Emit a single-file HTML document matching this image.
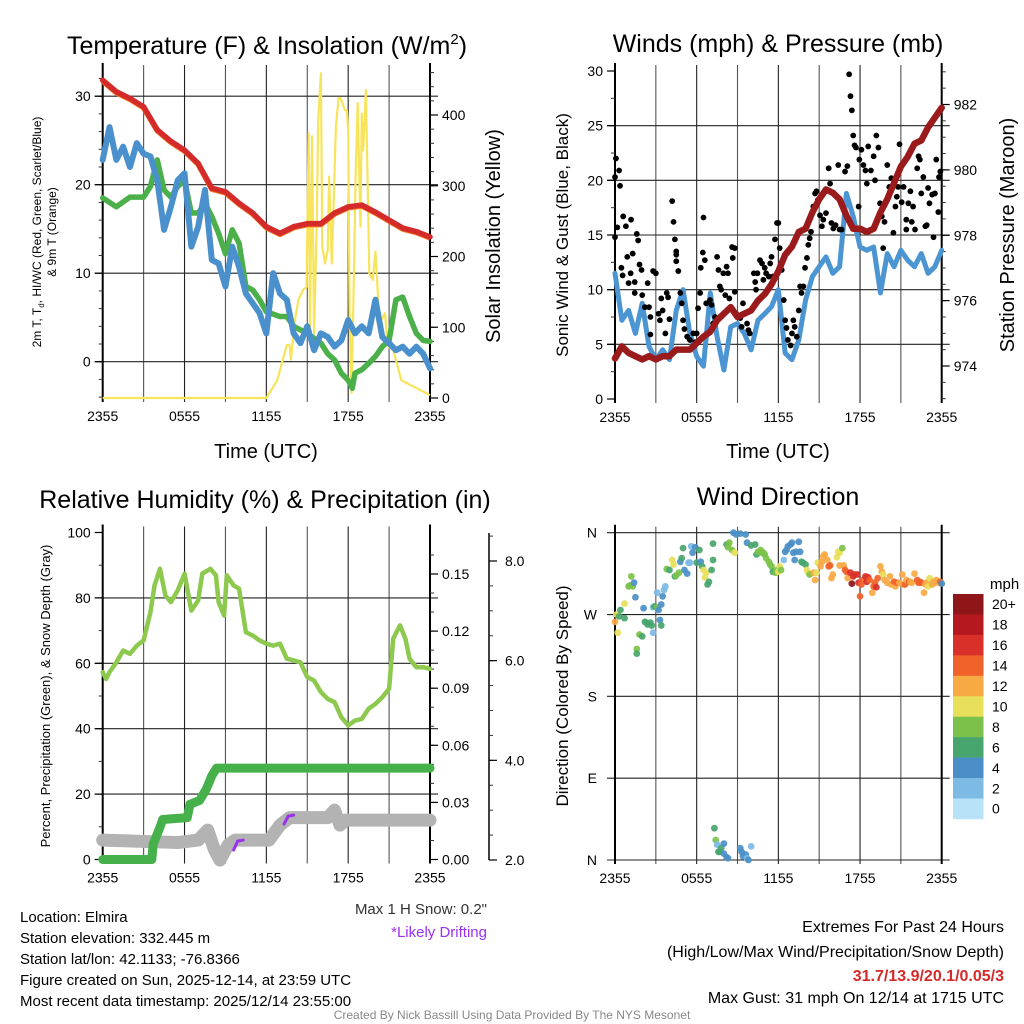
<!DOCTYPE html>
<html><head><meta charset="utf-8"><title>NYS Mesonet Elmira</title>
<style>
html,body{margin:0;padding:0;background:#fff;}
svg{display:block;font-family:"Liberation Sans",Arial,sans-serif;}
</style></head>
<body>
<svg id="fig" width="1024" height="1024" viewBox="0 0 1024 1024" xmlns="http://www.w3.org/2000/svg">
<rect x="0" y="0" width="1024" height="1024" fill="#fff"/>
<g id="layer"></g>
<!-- titles -->
<text x="267" y="54" font-size="25" text-anchor="middle">Temperature (F) &amp; Insolation (W/m<tspan font-size="15" dy="-10">2</tspan><tspan dy="10">)</tspan></text>
<text x="778" y="52" font-size="25" text-anchor="middle">Winds (mph) &amp; Pressure (mb)</text>
<text x="265" y="508" font-size="25" text-anchor="middle">Relative Humidity (%) &amp; Precipitation (in)</text>
<text x="778" y="505" font-size="25" text-anchor="middle">Wind Direction</text>
<!-- axis titles -->
<g font-size="12" text-anchor="middle">
<text transform="translate(41,232) rotate(-90)">2m T, T<tspan font-size="8" dy="3">d</tspan><tspan dy="-3">, HI/WC (Red, Green, Scarlet/Blue)</tspan></text>
<text transform="translate(56,232) rotate(-90)">&amp; 9m T (Orange)</text>
</g>
<text transform="translate(500,236) rotate(-90)" font-size="20" text-anchor="middle">Solar Insolation (Yellow)</text>
<text x="266" y="458" font-size="20" text-anchor="middle">Time (UTC)</text>
<text x="778" y="458" font-size="20" text-anchor="middle">Time (UTC)</text>
<text transform="translate(568,235) rotate(-90)" font-size="17" text-anchor="middle">Sonic Wind &amp; Gust (Blue, Black)</text>
<text transform="translate(1014,235) rotate(-90)" font-size="20" text-anchor="middle">Station Pressure (Maroon)</text>
<text transform="translate(50,696) rotate(-90)" font-size="13" text-anchor="middle">Percent, Precipitation (Green), &amp; Snow Depth (Gray)</text>
<text transform="translate(568,696) rotate(-90)" font-size="17" text-anchor="middle">Direction (Colored By Speed)</text>
<text x="487" y="914" font-size="15" text-anchor="end" fill="#333">Max 1 H Snow: 0.2"</text>
<text x="487" y="937" font-size="15" text-anchor="end" fill="#9b30f0">*Likely Drifting</text>
<text x="990" y="589" font-size="15">mph</text>
<g font-size="15">
<text x="20" y="922">Location: Elmira</text>
<text x="20" y="943">Station elevation: 332.445 m</text>
<text x="20" y="964">Station lat/lon: 42.1133; -76.8366</text>
<text x="20" y="985">Figure created on Sun, 2025-12-14, at 23:59 UTC</text>
<text x="20" y="1006">Most recent data timestamp: 2025/12/14 23:55:00</text>
</g>
<g font-size="16" text-anchor="end">
<text x="1004" y="932">Extremes For Past 24 Hours</text>
<text x="1004" y="957">(High/Low/Max Wind/Precipitation/Snow Depth)</text>
<text x="1004" y="981" fill="#d42a2a" font-weight="bold">31.7/13.9/20.1/0.05/3</text>
<text x="1004" y="1003">Max Gust: 31 mph On 12/14 at 1715 UTC</text>
</g>
<text x="512" y="1019" font-size="12" text-anchor="middle" fill="#888">Created By Nick Bassill Using Data Provided By The NYS Mesonet</text>
</svg>
<script>
// ---------- DATA ----------
const timeTickLabels = ["2355","0555","1155","1755","2355"];
const halfHours = [0,0.5,1,1.5,2,2.5,3,3.5,4,4.5,5,5.5,6,6.5,7,7.5,8,8.5,9,9.5,10,10.5,11,11.5,12,12.5,13,13.5,14,14.5,15,15.5,16,16.5,17,17.5,18,18.5,19,19.5,20,20.5,21,21.5,22,22.5,23,23.5,24];
// Panel 1
const tempHours = [0,1,2,3,4,5,6,7,8,9,10,11,12,13,14,15,16,17,18,19,20,21,22,23,24];
const tempF = [31.8,30.5,29.75,28.8,26.2,24.9,23.9,22.4,19.6,19.2,17.9,16.8,15.25,14.5,15.25,15.6,15.6,16.8,17.5,17.7,16.9,16.0,15.1,14.7,14.1];
const windChillF = [22.8,26.5,22.8,24.3,22.0,24.7,23.5,23.2,20.5,14.9,17.5,20.5,21.3,13.0,15.25,19.4,11.5,11.1,8.5,13.0,10.7,7.7,6.6,5.5,3.2,10.0,7.7,7.0,3.2,2.1,4.0,1.3,3.2,2.8,1.7,2.4,4.7,3.2,4.0,3.2,7.0,2.8,2.1,1.3,1.7,0.9,1.7,0.9,-0.75];
const dewHours = [0,1,2,3,3.5,4,4.5,5,5.5,6,6.5,7,7.5,8,8.5,9,9.5,10,10.5,11,11.5,12,13,13.5,14,15,16,16.5,17,17.5,18,18.3,18.5,19,19.5,20,20.5,21,21.5,22,22.5,23,23.5,24];
const dewF = [18.5,17.5,18.6,18.6,19.8,22.8,19.4,18.6,19.8,20.5,16.8,16.8,17.9,16.4,14.5,12.2,14.9,13.4,8.5,8.1,7.0,5.65,5.1,5.1,4.0,3.2,2.1,0.9,0.2,-1.3,-2.1,-3.0,-1.3,-0.9,-0.2,0.6,1.7,2.4,7.0,7.3,5.1,3.2,2.4,2.3];
const solarHours = [0,12,12.8,13.2,13.5,13.7,13.8,14.1,14.35,14.7,14.95,15.1,15.2,15.35,15.5,15.7,15.8,16.0,16.1,16.3,16.5,16.6,16.8,17.1,17.3,17.45,17.75,17.9,18.0,18.1,18.25,18.4,18.55,18.7,18.9,19.0,19.1,19.3,19.55,19.8,20.0,20.3,20.7,20.9,21.3,21.9,24];
const solarW = [0,0,25,54,75,75,54,110,139,153,157,374,101,370,91,252,391,459,214,190,209,313,190,384,424,424,407,407,379,124,7,153,318,417,242,402,350,435,176,167,207,106,120,73,68,25,4,0];
// Panel 2
const windMph = [11.5,7.2,8.1,6.0,8.75,4.8,3.6,4.5,3.6,8.1,10.0,6.0,3.9,3.0,9.7,5.7,2.65,6.6,6.9,6.0,4.5,7.2,7.8,8.45,10.0,4.2,3.6,5.4,9.05,11.2,12.1,13.0,11.5,12.1,18.8,16.7,13.9,13.6,13.9,9.7,13.3,12.1,13.6,12.7,12.1,13.3,11.5,12.1,13.6];
const pressureMb = [974.23,974.6,974.4,974.3,974.2,974.3,974.2,974.3,974.3,974.5,974.5,974.5,974.7,974.9,975.05,975.4,975.6,975.8,975.5,975.6,975.7,976.0,976.2,976.5,976.9,977.4,977.65,978.1,978.2,978.7,979.1,979.4,979.3,979.1,978.6,978.2,978.2,978.1,978.2,978.7,979.1,979.6,980.1,980.4,980.8,980.9,981.3,981.6,981.9];
const gustHours = [0,0.07,0.3,0.37,0,0.17,0.47,0.56,0.6,0.8,0.9,1.18,1.0,1.3,1.15,1.45,1.45,1.6,1.7,1.8,1.95,2.0,2.2,2.4,2.5,2.6,2.6,2.8,3.0,3.2,3.3,3.4,3.5,3.7,3.8,3.9,4.0,4.2,4.3,4.4,4.5,4.5,4.5,4.65,4.8,4.9,5.0,5.1,5.3,5.5,5.75,5.9,6.0,6.1,6.25,6.3,6.45,6.5,6.6,6.7,6.98,7.1,7.2,7.35,7.5,7.6,7.7,7.8,7.96,8.1,8.2,8.3,8.4,8.6,8.65,8.8,8.8,8.9,9.2,9.3,9.4,9.7,9.8,9.9,10.2,10.3,10.36,10.46,10.65,10.8,10.9,11.0,11.1,11.3,11.4,11.5,11.6,11.75,11.9,12.0,12.1,12.25,12.4,12.5,12.6,12.7,12.9,13.0,13.1,13.2,13.35,13.5,13.6,13.7,13.84,13.96,14.1,14.2,14.3,14.4,14.57,14.7,14.8,14.9,15.06,15.2,15.3,15.5,15.7,15.8,15.9,16.04,16.2,16.4,16.5,16.65,16.9,17.07,17.2,17.3,17.4,17.5,17.6,17.7,17.9,17.95,18.1,18.25,18.4,18.5,18.6,18.8,19.0,19.1,19.2,19.35,19.47,19.6,19.7,19.8,20.0,20.15,20.3,20.45,20.6,20.7,20.8,20.9,21.06,21.2,21.4,21.4,21.55,21.7,21.8,21.9,22.04,22.2,22.3,22.4,22.5,22.65,22.8,22.9,23.0,23.1,23.3,23.4,23.5,23.6,23.75,23.8,23.9];
const gustMph = [20.3,22,20.9,19.5,14.8,15.7,12,11.3,16.7,15.8,13,16.4,10.6,13.3,11.5,10.7,9.7,15.1,14.5,12.3,11.8,9.5,8.4,10.6,8.4,7.5,5.9,11.7,11.5,7.8,7.2,9.2,8.1,6.0,9.7,9.3,7.3,18.1,16.2,14.6,13.5,13.2,12.6,11.7,9.7,8.75,7.2,6.4,5.7,5.4,6.0,5.2,6.0,8.3,9.7,12.0,13.4,16.6,12.7,8.75,9.05,8.6,6.9,7.5,13.0,11.8,10.3,10.0,11.5,9.5,12.1,11.5,9.2,13.9,12.9,9.8,13.8,7.8,7.4,6.6,8.75,6.9,6.3,6.0,11.5,10.7,10.0,11.5,12.7,12.4,10.9,12.0,11.5,11.2,12.4,13.0,11.2,14.6,16.1,16.1,13.8,11.8,9.05,7.2,6.5,5.4,4.9,6.0,7.2,6.6,5.7,8.1,10.3,9.7,10.3,12.0,12.9,14.1,14.7,15.3,17.6,18.8,19.0,18.2,16.8,15.8,16.4,17.0,21.1,19.7,16.1,15.6,15.9,21.4,15.5,15.5,20.8,21.3,29.7,27.7,26.4,24.1,23.2,23.0,17.6,21.9,22.8,21.4,20.9,19.7,23.1,20.9,22.2,20.0,24.1,23.0,17.9,16.7,13.8,16.2,21.4,19.4,20.2,15.2,17.6,18.5,19.4,23.3,18.0,19.4,15.5,16.4,17.9,19.0,16.2,17.6,15.5,21.1,22.2,21.9,18.8,20.3,15.8,15.9,19.3,17.9,18.7,14.8,18.8,21.9,17.1,20.3,20.8];
// Panel 3
const rhHours = [0,0.25,0.5,1,1.5,2,2.5,3,3.5,3.8,4.2,4.6,5,5.5,6,6.5,7,7.3,7.9,8.3,8.5,8.9,9.1,9.6,10,10.5,11,11.5,12,12.5,13,13.5,14,14.5,15,15.5,16,16.5,17,17.5,18,18.5,19,19.5,20,20.5,21,21.3,21.8,22.2,22.5,23,23.5,24];
const rhPct = [57.3,55.2,57.3,60.3,63.9,62.9,65.4,67.0,75.6,83.8,88.9,80.7,78.7,82.3,87.4,76.1,79.2,87.4,88.9,86.9,78.7,74.6,86.9,83.8,82.8,69.5,68.5,67.0,66.0,65.4,66.0,61.4,60.9,60.3,55.8,54.7,51.2,49.1,48.1,43.5,41.0,42.5,43.0,46.1,47.6,49.6,52.2,67.5,71.6,67.5,61.4,58.8,58.8,58.3];
const precipHours = [0,3.6,3.7,4.2,4.4,6.2,6.4,7.1,7.6,8.0,8.35,24];
const precipIn = [0,0,0.008,0.017,0.021,0.022,0.029,0.031,0.037,0.044,0.048,0.048];
const snowHours = [0,5.5,7.0,7.7,8.2,8.6,9.2,9.7,12.2,13.0,13.7,16.5,17.0,17.4,17.8,24];
const snowIn = [2.4,2.35,2.4,2.6,2.2,2.0,2.3,2.4,2.4,2.7,2.85,2.85,3.0,2.7,2.8,2.8];
const driftHours = [[9.6,9.9,10.3],[13.3,13.6,14.0]];
const driftIn = [[2.2,2.38,2.4],[2.72,2.88,2.9]];
// Panel 4
const dirHours = [0,0.2,0.1,0.3,0.4,0.7,0.7,1.0,1.1,1.2,1.3,1.4,1.5,1.6,1.6,1.8,2.0,2.1,2.2,2.3,2.4,2.6,2.7,2.8,2.8,2.9,3.1,3.1,3.2,3.3,3.4,3.4,3.5,3.6,3.7,3.8,4.0,4.2,4.3,4.4,4.5,4.7,4.8,4.9,5.0,5.1,5.3,5.4,5.5,5.6,5.7,5.9,6.0,6.2,6.3,6.4,6.5,6.6,6.7,6.8,6.9,7.1,7.2,7.2,8.2,8.3,8.4,8.6,8.8,8.7,8.9,9.2,9.6,9.7,10.0,10.3,10.4,10.5,10.7,10.8,10.9,11.0,11.1,11.3,11.4,11.5,11.6,11.8,11.9,12.0,12.1,12.2,12.4,12.5,12.6,12.7,12.9,13.0,13.1,13.2,13.3,13.5,13.6,13.7,13.8,14.0,14.1,14.2,14.3,14.6,14.7,14.8,14.9,15.1,15.2,15.3,15.4,15.6,15.7,15.8,15.9,16.0,16.3,16.4,16.5,16.7,16.5,16.8,16.9,17.0,17.1,17.3,17.4,17.5,17.6,17.8,17.9,18.0,18.1,18.2,18.4,18.5,18.6,18.7,18.9,19.0,19.1,19.2,19.3,19.5,19.6,19.7,19.8,20.0,20.2,20.3,20.5,20.6,20.7,20.9,21.1,21.2,21.3,21.4,21.6,21.7,21.8,22.0,22.2,22.3,22.4,22.5,22.7,22.8,22.9,23.0,23.1,23.3,23.4,23.5,23.6,23.8,23.9,24.0,7.3,7.4,7.5,7.6,7.7,7.8,8.0,8.0,8.2,8.3,9.2,9.3,9.4,9.6,9.7,9.8,10.0,10.1];
const dirDeg = [262,250,270,268,275,266,282,301,302,312,301,305,289,232,227,248,246,277,262,261,259,261,258,250,278,279,278,294,275,264,258,281,290,297,301,320,319,330,325,312,313,316,328,332,343,319,315,327,327,345,338,344,327,341,328,323,319,311,316,303,306,319,330,348,347,344,349,341,338,360,358,359,358,349,346,347,336,339,341,338,338,336,332,328,325,323,317,316,319,317,323,319,330,339,341,345,347,349,338,330,339,350,339,328,327,325,319,316,314,316,308,316,327,323,328,334,336,330,323,324,310,314,333,339,338,343,324,324,319,317,310,316,304,312,314,314,305,290,303,308,312,306,311,308,294,301,305,300,310,323,317,314,308,305,312,303,306,301,305,305,314,303,303,308,306,306,305,315,308,305,306,305,294,303,305,301,310,303,306,305,308,305,306,304,35,22,17,9,9,13,7,18,3,2,13,9,4,6,2,0,15,2];
const dirSpeed = [12,10,10,6,6,6,10,8,8,8,8,4,4,8,6,8,6,4,6,6,6,6,6,2,2,6,8,2,4,4,6,4,4,2,2,8,6,10,10,6,8,8,4,6,6,4,4,2,2,2,4,4,6,6,4,6,10,10,10,6,6,6,6,6,6,8,8,8,10,4,4,4,4,4,6,6,6,8,8,8,8,8,8,8,8,8,6,8,8,10,10,8,2,4,4,4,4,4,4,4,4,4,4,6,6,6,10,10,8,12,12,10,10,12,12,12,12,12,14,14,12,12,10,10,10,8,12,12,14,14,12,16,20,16,16,16,16,14,14,14,16,16,16,14,12,14,14,16,14,12,12,10,12,12,12,12,14,12,14,12,12,12,14,12,14,12,12,12,14,14,14,14,12,12,12,10,10,12,12,12,12,12,14,4,6,8,2,6,6,6,4,4,4,4,4,4,4,4,2,4,2];
const speedBins = [0,2,4,6,8,10,12,14,16,18,20];
const speedBinLabels = ["0","2","4","6","8","10","12","14","16","18","20+"];
const speedColors = ["#b7e2f7","#7dbae4","#4a8fc7","#48a56e","#7cc24a","#e8e05a","#f7a944","#f0622a","#d9302a","#b5191f","#8e1518"];

// ---------- HELPERS ----------
const NS = "http://www.w3.org/2000/svg";
const layer = document.getElementById("layer");
function mk(tag, attrs, parent){
  const e = document.createElementNS(NS, tag);
  for (const k in attrs) e.setAttribute(k, attrs[k]);
  (parent||layer).appendChild(e);
  return e;
}
function lin(d0,d1,r0,r1){ return v => r0 + (v-d0)/(d1-d0)*(r1-r0); }
function pathD(xs, ys, fx, fy){
  let d = "";
  const n = Math.min(xs.length, ys.length);
  for (let i=0;i<n;i++) d += (i?"L":"M") + fx(xs[i]).toFixed(2) + "," + fy(ys[i]).toFixed(2);
  return d;
}

const P = {
  tl:{x0:102.7,x1:430,y0:71,y1:398},
  tr:{x0:615,x1:941.7,y0:71,y1:399},
  bl:{x0:102.7,x1:430,y0:532.5,y1:859.5},
  br:{x0:615,x1:941.7,y0:532.7,y1:860}
};

function frameAndTime(p, name){
  const g = mk("g",{});
  
  
  const fx = lin(0,24,p.x0,p.x1);
  for (let h=0; h<=24; h+=3){
    const x = fx(h);
    mk("line",{x1:x,y1:p.y0-6,x2:x,y2:p.y1+4,stroke:(h%6===0)?"#222":"#555","stroke-width":1.1},g);
  }
  for (let i=0;i<timeTickLabels.length;i++){
    const t = mk("text",{x:fx(i*6),y:p.y1+23,"font-size":14,"text-anchor":"middle"},g);
    
    
    t.textContent = timeTickLabels[i];
  }
  return fx;
}
function hgrid(p, fy, vals){
  for (const v of vals){ mk("line",{x1:p.x0-8,y1:fy(v),x2:p.x1+8,y2:fy(v),stroke:"#222","stroke-width":1.1}); }
}
function border(p){
  mk("line",{x1:p.x0,y1:p.y0-8,x2:p.x0,y2:p.y1+4,stroke:"#000","stroke-width":2});
  mk("line",{x1:p.x1,y1:p.y0-8,x2:p.x1,y2:p.y1+4,stroke:"#000","stroke-width":2});
}
function yTicks(p, fy, vals, labels, side, minorVals, xoff, fs){
  const xa = side==="l" ? p.x0 : p.x1;
  const dir = side==="l" ? -1 : 1;
  for (const m of (minorVals||[])) mk("line",{x1:xa,y1:fy(m),x2:xa+dir*4,y2:fy(m),stroke:"#333","stroke-width":1});
  vals.forEach((v,i)=>{
    mk("line",{x1:xa,y1:fy(v),x2:xa+dir*8,y2:fy(v),stroke:"#000","stroke-width":1.2});
    const t = mk("text",{x:xa+dir*(xoff||12),y:fy(v)+5,"font-size":fs||14,"text-anchor":side==="l"?"end":"start"});
    
    
    t.textContent = labels[i];
  });
}
function range(a,b,s){ const r=[]; for(let v=a; v<=b+1e-9; v+=s) r.push(+v.toFixed(4)); return r; }

// ---------- PANEL 1 ----------
(function(){
  const p = P.tl;
  const fx = frameAndTime(p,'temperature-panel');
  const fy = lin(0,10,361.7,273.2);
  const fs = lin(0,400,398,115);
  hgrid(p, fy, [0,10,20,30]);
  border(p);
  yTicks(p, fy, [0,10,20,30], ["0","10","20","30"], "l", range(-4,32,2), 12);
  yTicks(p, fs, [0,100,200,300,400], ["0","100","200","300","400"], "r", range(0,460,20), 12);
  const s = mk("path",{d:pathD(solarHours,solarW,fx,fs),fill:"none",stroke:"#f8e45a","stroke-width":2.2,"stroke-linejoin":"round"});
   
  const g = mk("path",{d:pathD(dewHours,dewF,fx,fy),fill:"none",stroke:"#4bb04a","stroke-width":5.5,"stroke-linejoin":"round","stroke-linecap":"round"});
   
  const b = mk("path",{d:pathD(halfHours,windChillF,fx,fy),fill:"none",stroke:"#4a90cc","stroke-width":6,"stroke-linejoin":"round","stroke-linecap":"round"});
   
  const o = mk("path",{d:pathD(tempHours,tempF,fx,v=>fy(v)+1),fill:"none",stroke:"#f07a2a","stroke-width":5.5,"stroke-linejoin":"round"});
   
  const r = mk("path",{d:pathD(tempHours,tempF,fx,fy),fill:"none",stroke:"#d42a2a","stroke-width":5.5,"stroke-linejoin":"round","stroke-linecap":"round"});
   
})();

// ---------- PANEL 2 ----------
(function(){
  const p = P.tr;
  const fx = frameAndTime(p,'winds-panel');
  const fy = lin(0,30,399,71);
  const fp = lin(974,982,366,104.5);
  hgrid(p, fy, [5,10,15,20,25]);
  border(p);
  yTicks(p, fy, [0,5,10,15,20,25,30], ["0","5","10","15","20","25","30"], "l", range(0,30,2.5), 12);
  yTicks(p, fp, [974,976,978,980,982], ["974","976","978","980","982"], "r", range(973,983,0.5), 12);
  const w = mk("path",{d:pathD(halfHours,windMph,fx,fy),fill:"none",stroke:"#4a95d2","stroke-width":5,"stroke-linejoin":"round","stroke-linecap":"round"});
   
  const gg = mk("g",{});
   
  const n = Math.min(gustHours.length, gustMph.length);
  for (let i=0;i<n;i++){
    const c = mk("circle",{cx:fx(gustHours[i]),cy:fy(gustMph[i]),r:2.9,fill:"#000"},gg);
    
    
  }
  const pr = mk("path",{d:pathD(halfHours,pressureMb,fx,fp),fill:"none",stroke:"#9b1a1c","stroke-width":6.5,"stroke-linejoin":"round","stroke-linecap":"round"});
   
})();

// ---------- PANEL 3 ----------
(function(){
  const p = P.bl;
  const fx = frameAndTime(p,'humidity-panel');
  const fy = lin(0,100,859.5,532.5);
  const fpr = lin(0,0.15,859.5,574);
  const fsn = lin(2,8,860,561);
  hgrid(p, fy, [20,40,60,80]);
  border(p);
  yTicks(p, fy, [0,20,40,60,80,100], ["0","20","40","60","80","100"], "l", range(0,100,10), 12);
  yTicks(p, fpr, [0,0.03,0.06,0.09,0.12,0.15], ["0.00","0.03","0.06","0.09","0.12","0.15"], "r", range(0,0.165,0.01), 12);
  const ax2 = 489;
  mk("line",{x1:ax2,y1:533,x2:ax2,y2:860,stroke:"#000","stroke-width":1.5});
  for (const m of range(2,8.6,0.5)) mk("line",{x1:ax2,y1:fsn(m),x2:ax2+4,y2:fsn(m),stroke:"#333","stroke-width":1});
  [2,4,6,8].forEach(v=>{
    mk("line",{x1:ax2,y1:fsn(v),x2:ax2+8,y2:fsn(v),stroke:"#000","stroke-width":1.2});
    const t = mk("text",{x:ax2+16,y:fsn(v)+5,"font-size":14});
    
    
    t.textContent = v.toFixed(1);
  });
  const sn = mk("path",{d:pathD(snowHours,snowIn,fx,fsn),fill:"none",stroke:"#b3b3b3","stroke-width":13,"stroke-linejoin":"round","stroke-linecap":"round"});
   
  for (let k=0;k<driftHours.length;k++){
    const d = mk("path",{d:pathD(driftHours[k],driftIn[k],fx,fsn),fill:"none",stroke:"#9b30f0","stroke-width":3,"stroke-linecap":"round"});
     
  }
  const pc = mk("path",{d:pathD(precipHours,precipIn,fx,fpr),fill:"none",stroke:"#46b04a","stroke-width":9,"stroke-linejoin":"round","stroke-linecap":"round"});
   
  const rh = mk("path",{d:pathD(rhHours,rhPct,fx,fy),fill:"none",stroke:"#8ec94f","stroke-width":4.5,"stroke-linejoin":"round","stroke-linecap":"round"});
   
})();

// ---------- PANEL 4 ----------
(function(){
  const p = P.br;
  const fx = frameAndTime(p,'wind-direction-panel');
  const fy = lin(0,360,860,532.7);
  hgrid(p, fy, [0,90,180,270,360]);
  border(p);
  const dl = ["N","E","S","W","N"];
  [0,90,180,270,360].forEach((v,i)=>{
    const t = mk("text",{x:p.x0-18,y:fy(v)+5,"font-size":14,"text-anchor":"end"});
    
    
    t.textContent = dl[i];
  });
  const g = mk("g",{});
   
  function colorFor(s){ let idx=0; for (let i=0;i<speedBins.length;i++) if (s>=speedBins[i]) idx=i; return speedColors[idx]; }
  const n = Math.min(dirHours.length, dirDeg.length, dirSpeed.length);
  for (let i=0;i<n;i++){
    const c = mk("circle",{cx:fx(dirHours[i]),cy:fy(dirDeg[i]),r:3.4,fill:colorFor(dirSpeed[i]),"fill-opacity":0.92},g);
    
    
  }
  const cb = mk("g",{});
   
  const top = 594, h = 20.45;
  for (let i=0;i<speedColors.length;i++){
    const idx = speedColors.length-1-i;
    const r = mk("rect",{x:953,y:top+i*h,width:30.5,height:h+0.3,fill:speedColors[idx]},cb);
    
    
    const t = mk("text",{x:992,y:top+i*h+h/2+5,"font-size":14},cb);
    
    
    t.textContent = speedBinLabels[idx];
  }
})();
</script>
</body></html>
